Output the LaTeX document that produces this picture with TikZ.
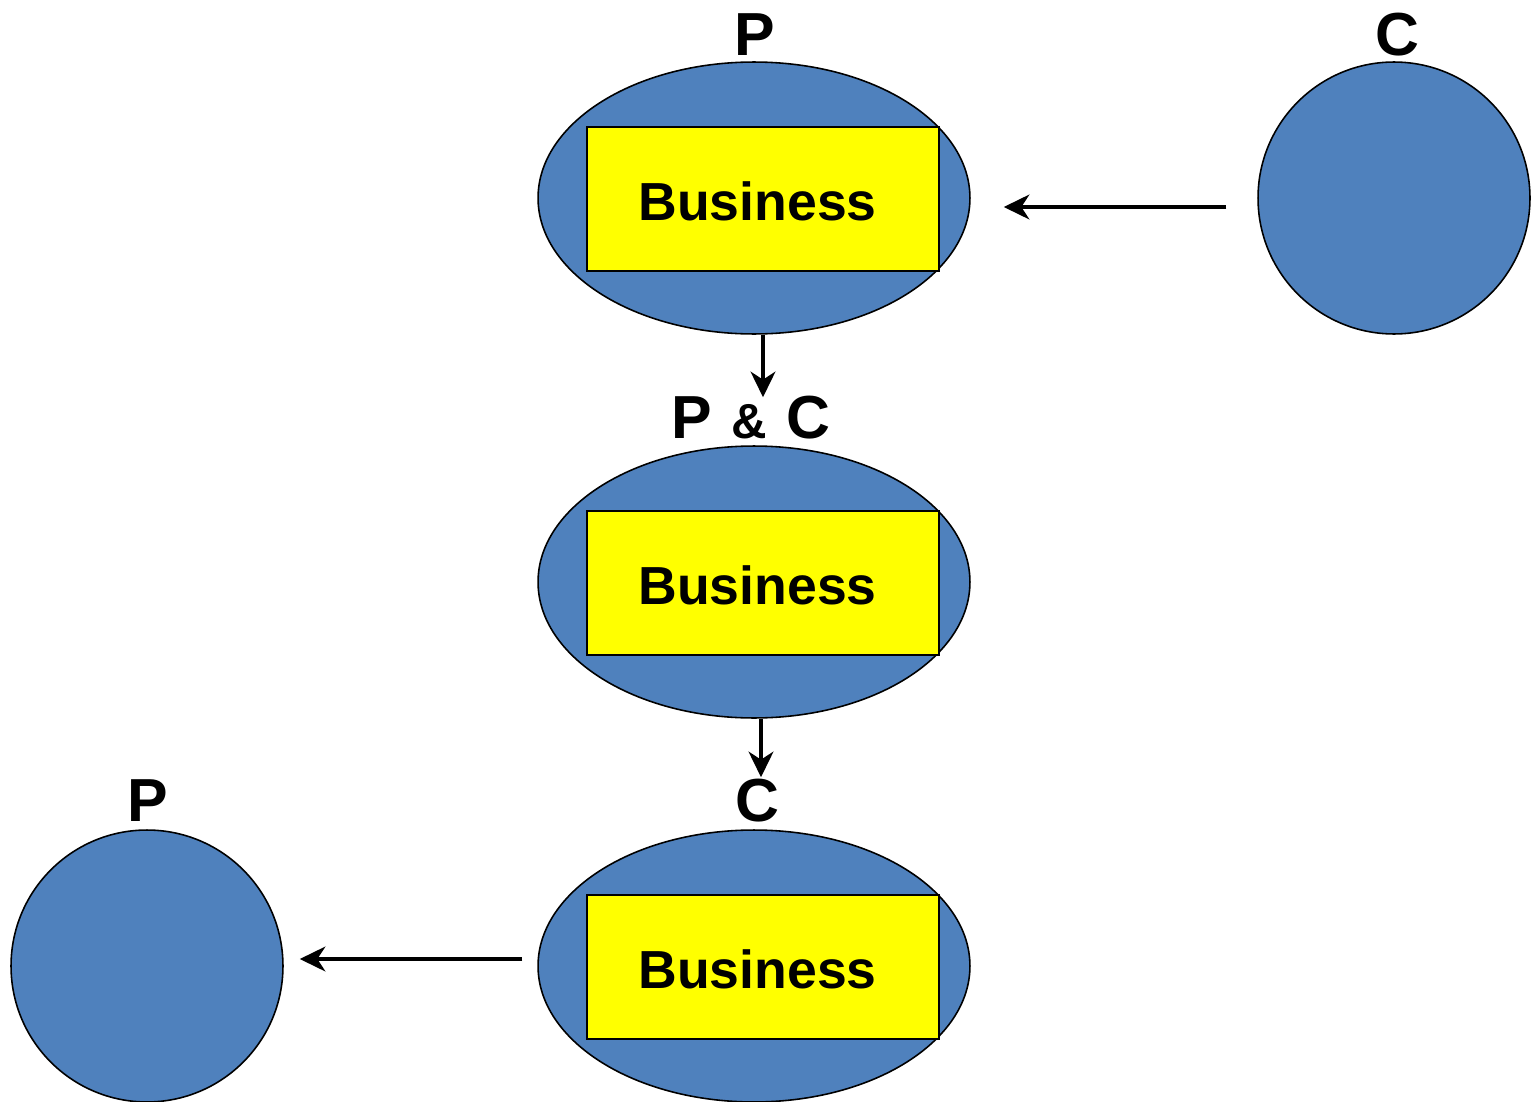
\documentclass[tikz,border=0pt]{standalone}
\usepackage{fontspec}
\setmainfont{Liberation Sans}
\usetikzlibrary{shapes.geometric,arrows.meta}
\definecolor{bizblue}{HTML}{4F81BD}
\definecolor{bizyellow}{HTML}{FFFF00}
\tikzset{
  oval/.style={ellipse, draw=black, line width=0.9pt, fill=bizblue, minimum width=8.64cm, minimum height=5.44cm, inner sep=0pt},
  disc/.style={circle, draw=black, line width=0.9pt, fill=bizblue, minimum size=5.44cm, inner sep=0pt},
  bizbox/.style={rectangle, draw=black, line width=1.2pt, fill=bizyellow, minimum width=7.04cm, minimum height=2.88cm, inner sep=0pt},
  biztext/.style={anchor=base, inner sep=0pt, font=\bfseries\fontsize{30.5}{36}\selectfont},
  lbl/.style={anchor=base, inner sep=0pt, font=\bfseries\fontsize{34.6}{40}\selectfont},
  arr/.style={line width=2.7pt, -{Stealth[length=14.5pt, width=14pt, inset=4.5pt]}}
}
\begin{document}
\begin{tikzpicture}[x=0.02cm, y=-0.02cm]
\useasboundingbox (0,0) rectangle (1532,1102);
% shapes
\node[oval] (e1) at (754,198) {};
\node[oval] (e2) at (754,582) {};
\node[oval] (e3) at (754,966) {};
\node[disc] (cR) at (1394,198) {};
\node[disc] (cL) at (147,966) {};
% business boxes
\node[bizbox] (b1) at (763,199) {};
\node[bizbox] (b2) at (763,583) {};
\node[bizbox] (b3) at (763,967) {};
\node[biztext] (t1) at (757.5,220) {Business};
\node[biztext] (t2) at (757.5,604) {Business};
\node[biztext] (t3) at (757.5,988) {Business};
% labels
\node[lbl] (l1) at (755,55) {P};
\node[lbl] (l2) at (1397,55) {C};
\node[lbl] (l3) at (751,438) {P\hspace{0.06cm} {\fontsize{28}{32}\selectfont\&} \hspace{0.06cm}C};
\node[lbl] (l4) at (757,821) {C};
\node[lbl] (l5) at (148,821) {P};
% connectors
\draw[arr, shorten <=0.62cm, shorten >=0.66cm] ([yshift=-0.18cm]cR.west) -- ([yshift=-0.18cm]e1.east);
\draw[arr, shorten >=0.96cm] ([xshift=0.18cm]e1.south) -- ([xshift=0.18cm]e2.north);
\draw[arr, shorten >=1.04cm] ([xshift=0.14cm]e2.south) -- ([xshift=0.14cm]e3.north);
\draw[arr, shorten <=0.3cm, shorten >=0.32cm] ([yshift=0.14cm]e3.west) -- ([yshift=0.14cm]cL.east);
\end{tikzpicture}
\end{document}
